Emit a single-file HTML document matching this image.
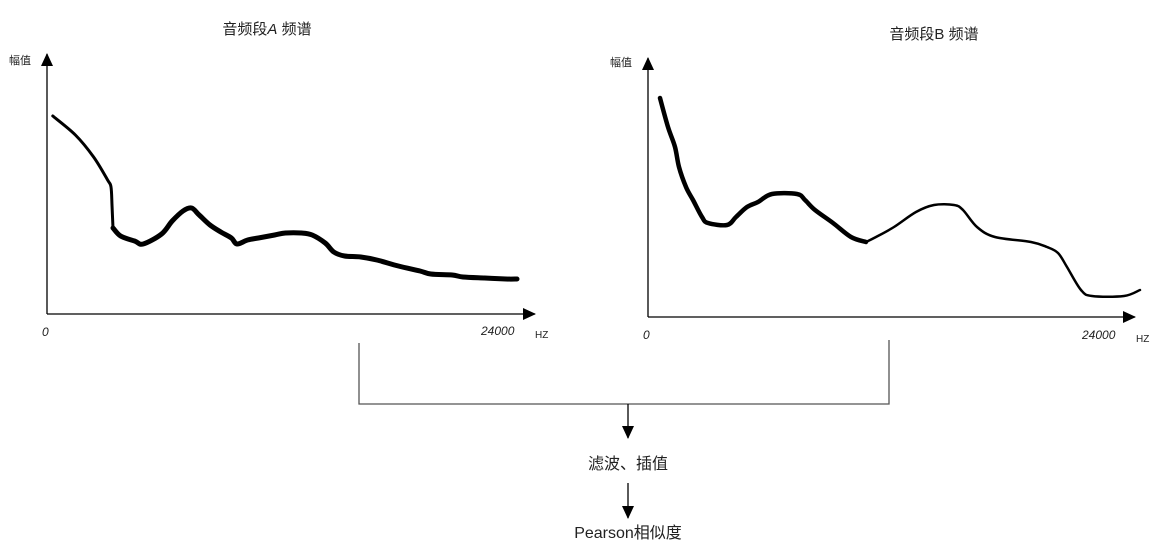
<!DOCTYPE html>
<html><head><meta charset="utf-8"><style>
body{margin:0;background:#fff;width:1163px;height:553px;overflow:hidden}
svg{display:block}
text{font-family:"Liberation Sans","Noto Sans CJK SC",sans-serif;fill:#222}
</style></head><body>
<svg id="fig" width="1163" height="553">
<defs><marker id="ah" markerWidth="14" markerHeight="14" refX="12" refY="6" orient="auto" markerUnits="userSpaceOnUse"><path d="M0,0 L13,6 L0,12 z" fill="#000"/></marker></defs>
<g>
<text x="267" y="34" font-size="15" text-anchor="middle">音频段<tspan font-style="italic">A</tspan> 频谱</text>
<text x="9" y="64" font-size="11">幅值</text>
<line x1="47" y1="314" x2="47" y2="54" stroke="#000" stroke-width="1.3" marker-end="url(#ah)"/>
<line x1="47" y1="314" x2="535" y2="314" stroke="#000" stroke-width="1.3" marker-end="url(#ah)"/>
<text x="42" y="336" font-size="12" font-style="italic">0</text>
<text x="481" y="335" font-size="12" font-style="italic">24000</text>
<text x="535" y="338" font-size="10">HZ</text>
<g id="lineA"></g>
</g>
<g>
<text x="934" y="39" font-size="15" text-anchor="middle">音频段B 频谱</text>
<text x="610" y="66" font-size="11">幅值</text>
<line x1="648" y1="317" x2="648" y2="58" stroke="#000" stroke-width="1.3" marker-end="url(#ah)"/>
<line x1="648" y1="317" x2="1135" y2="317" stroke="#000" stroke-width="1.3" marker-end="url(#ah)"/>
<text x="643" y="339" font-size="12" font-style="italic">0</text>
<text x="1082" y="339" font-size="12" font-style="italic">24000</text>
<text x="1136" y="342" font-size="10">HZ</text>
<g id="lineB"></g>
</g>
<g>
<polyline points="359,343 359,404 889,404 889,340" fill="none" stroke="#555" stroke-width="1.3"/>
<line x1="628" y1="404" x2="628" y2="438" stroke="#000" stroke-width="1.3" marker-end="url(#ah)"/>
<text x="628" y="469" font-size="16" text-anchor="middle">滤波、插值</text>
<line x1="628" y1="483" x2="628" y2="518" stroke="#000" stroke-width="1.3" marker-end="url(#ah)"/>
<text x="628" y="538" font-size="16" text-anchor="middle">Pearson相似度</text>
</g>
</svg>
<script>
const freqA=[290,1420,2330,3030,3200,3250,3300,3680,4380,4810,5730,6260,6800,7230,7610,8150,8690,9220,9500,10030,10570,11380,11920,12730,13260,13910,14340,14880,15690,16490,17570,18650,19190,20260,20800,21880,22950,23500];
const ampA=[79.2,71.6,62.8,53.6,50.8,43.6,34.4,31.2,29.2,28,32,37.2,41.2,42.4,39.6,35.6,32.8,30.4,28,29.6,30.4,31.6,32.4,32.4,31.6,28.4,24.8,23.2,22.8,21.6,19.2,17.2,16,15.6,14.8,14.4,14,14];
const freqB=[600,1000,1350,1550,1900,2250,2700,3000,3950,4400,4950,5500,6200,7450,7850,8350,9250,10150,10900,11400,12300,13400,14300,15300,15750,16450,17350,19150,19950,20500,20950,21650,22200,23800,24600];
const ampB=[87.6,76,68,60,52,46.8,40,37.6,36.8,40,44,46,49.2,49.2,46.8,42.8,37.6,32,30,32,36,42,44.8,44.8,42.8,36,32,30,28,25.6,20,10.8,8.4,8.4,10.8];
const NS='http://www.w3.org/2000/svg';
function mk(ox,oy){return {x:f=>ox+f/50,y:a=>oy-a*2.5};}
function path(g,fr,am,s,i0,i1,w,name){
  const pts=[];
  for(let i=i0;i<=i1;i++)pts.push([s.x(fr[i]),s.y(am[i])]);
  let d='M'+pts[0][0].toFixed(1)+','+pts[0][1].toFixed(1);
  for(let i=0;i<pts.length-1;i++){
    const p0=pts[Math.max(0,i-1)],p1=pts[i],p2=pts[i+1],p3=pts[Math.min(pts.length-1,i+2)];
    const c1x=p1[0]+(p2[0]-p0[0])/6,c1y=p1[1]+(p2[1]-p0[1])/6;
    const c2x=p2[0]-(p3[0]-p1[0])/6,c2y=p2[1]-(p3[1]-p1[1])/6;
    d+='C'+c1x.toFixed(1)+','+c1y.toFixed(1)+' '+c2x.toFixed(1)+','+c2y.toFixed(1)+' '+p2[0].toFixed(1)+','+p2[1].toFixed(1);
  }
  const p=document.createElementNS(NS,'path');
  p.setAttribute('d',d);p.setAttribute('fill','none');p.setAttribute('stroke','#000');
  p.setAttribute('stroke-width',w);p.setAttribute('stroke-linejoin','round');p.setAttribute('stroke-linecap','round');
  
  
  g.appendChild(p);
}
const sA=mk(47,314),sB=mk(648,317);
const gA=document.getElementById('lineA'),gB=document.getElementById('lineB');
path(gA,freqA,ampA,sA,0,6,3,'spectrum-a-line-low');
path(gA,freqA,ampA,sA,6,freqA.length-1,5,'spectrum-a-line-high');
path(gB,freqB,ampB,sB,0,18,4.5,'spectrum-b-line-low');
path(gB,freqB,ampB,sB,18,freqB.length-1,2.5,'spectrum-b-line-high');
</script>
</body></html>
